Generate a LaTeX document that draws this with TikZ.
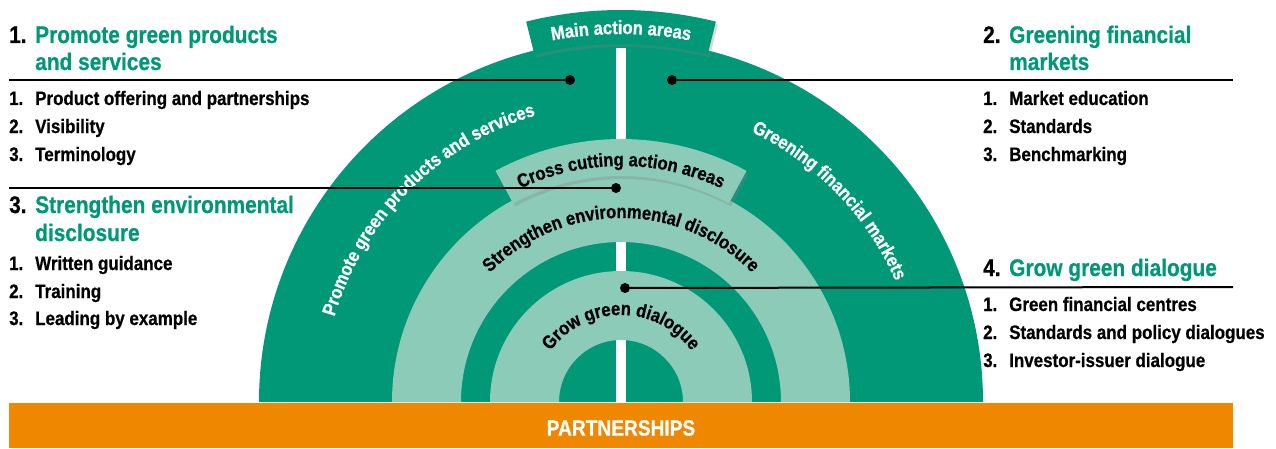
\documentclass[tikz,border=0pt]{standalone}
\usepackage{fontspec}
\usetikzlibrary{decorations.text,shadows}
\newfontfamily\cnd{Liberation Sans}[FakeStretch=0.87,BoldFeatures={FakeBold=0.6}]
\newcommand\hdfont{\cnd\bfseries\fontsize{24}{28}\selectfont}
\newcommand\itfont{\cnd\bfseries\fontsize{19.5}{23}\selectfont}
\newcommand\arcfont{\cnd\bfseries\fontsize{19}{22}\selectfont}
\definecolor{dkgreen}{HTML}{009877}
\definecolor{ltgreen}{HTML}{8DCBB9}
\definecolor{orng}{HTML}{F08700}
\tikzset{
  arctext/.style 2 args={decorate,decoration={text along path,text align=center,
      text color=#1,text={|\arcfont|#2}}},
  banner/.style={fill=#1,drop shadow={shadow xshift=2pt,shadow yshift=-3pt,opacity=.3}},
}

\begin{document}
\begin{tikzpicture}[x=1pt,y=1pt]
  \useasboundingbox (0,0) rectangle (1276,448);
  \coordinate (C) at (621,46);

  \fill[dkgreen] (C) ++(180:362) arc[start angle=180,end angle=0,radius=362] -- cycle;
  \fill[white] (616,40) rectangle (626,400);
  \fill[ltgreen] (C) ++(180:229) arc[start angle=180,end angle=0,radius=229]
    -- ++(-69,0) arc[start angle=0,end angle=180,radius=160] -- cycle;
  \fill[ltgreen] (C) ++(180:131) arc[start angle=180,end angle=0,radius=131]
    -- ++(-69,0) arc[start angle=0,end angle=180,radius=62] -- cycle;

  \path[banner=dkgreen] ([shift={(76:358)}]C) arc[start angle=76,end angle=104,radius=358]
    -- ([shift={(104:392)}]C) arc[start angle=104,end angle=76,radius=392] -- cycle;
  \path[banner=ltgreen] ([shift={(61.5:226)}]C) arc[start angle=61.5,end angle=118.5,radius=226]
    -- ([shift={(118.5:263)}]C) arc[start angle=118.5,end angle=61.5,radius=263] -- cycle;

  \path[arctext={white}{Main action areas}] ([shift={(130:368)}]C) arc[start angle=130,end angle=50,radius=368];
  \path[arctext={black}{Cross cutting action areas}] ([shift={(140:236)}]C) arc[start angle=140,end angle=40,radius=236];
  \path[arctext={white}{Promote green products and services}] ([shift={(185:299)}]C) arc[start angle=185,end angle=85,radius=299];
  \path[arctext={white}{Greening financial markets}] ([shift={(94:300)}]C) arc[start angle=94,end angle=-6,radius=300];
  \path[arctext={black}{Strengthen environmental disclosure}] ([shift={(150:184)}]C) arc[start angle=150,end angle=30,radius=184];
  \path[arctext={black}{Grow green dialogue}] ([shift={(170:87)}]C) arc[start angle=170,end angle=10,radius=87];

  \fill[orng] (9,0) rectangle (1233,45);
  \node[font=\cnd\bfseries\fontsize{22}{26}\selectfont,text=white] (p) at (621,20) {PARTNERSHIPS};

  \begin{scope}[every node/.style={circle,fill=black,inner sep=0pt,minimum size=10pt}]
    \node (d1) at (570,368) {};
    \node (d2) at (672,368) {};
    \node (d3) at (616,260) {};
    \node (d4) at (625,160) {};
  \end{scope}
  \coordinate (l1) at (9,368);
  \coordinate (r2) at (1233,368);
  \coordinate (l3) at (9,260);
  \coordinate (r4) at (1233,161);
  \begin{scope}[every edge/.style={draw,line width=2pt}]
    \path (l1) edge (d1);
    \path (d2) edge (r2);
    \path (l3) edge (d3);
    \path (d4) edge (r4);
  \end{scope}

  \begin{scope}[every node/.style={anchor=base west,inner sep=0pt,font=\hdfont}]
    \node (n1) at (9,405) {1.};
    \node[text=dkgreen] (h1) at (35,405) {Promote green products};
    \node[text=dkgreen] (h1b) at (35,378) {and services};
    \node (n3) at (9,235) {3.};
    \node[text=dkgreen] (h3) at (35,235) {Strengthen environmental};
    \node[text=dkgreen] (h3b) at (35,207) {disclosure};
    \node (n2) at (983,405) {2.};
    \node[text=dkgreen] (h2) at (1009,405) {Greening financial};
    \node[text=dkgreen] (h2b) at (1009,378) {markets};
    \node (n4) at (983,172) {4.};
    \node[text=dkgreen] (h4) at (1009,172) {Grow green dialogue};
  \end{scope}

  \begin{scope}[every node/.style={anchor=base west,inner sep=0pt,font=\itfont}]
    \node (a1) at (9,343) {1.};
    \node (a1t) at (35,343) {Product offering and partnerships};
    \node (a2) at (9,315) {2.};
    \node (a2t) at (35,315) {Visibility};
    \node (a3) at (9,287) {3.};
    \node (a3t) at (35,287) {Terminology};
    \node (b1) at (983,343) {1.};
    \node (b1t) at (1009,343) {Market education};
    \node (b2) at (983,315) {2.};
    \node (b2t) at (1009,315) {Standards};
    \node (b3) at (983,287) {3.};
    \node (b3t) at (1009,287) {Benchmarking};
    \node (c1) at (9,178) {1.};
    \node (c1t) at (35,178) {Written guidance};
    \node (c2) at (9,150) {2.};
    \node (c2t) at (35,150) {Training};
    \node (c3) at (9,123) {3.};
    \node (c3t) at (35,123) {Leading by example};
    \node (e1) at (983,137) {1.};
    \node (e1t) at (1009,137) {Green financial centres};
    \node (e2) at (983,109) {2.};
    \node (e2t) at (1009,109) {Standards and policy dialogues};
    \node (e3) at (983,81) {3.};
    \node (e3t) at (1009,81) {Investor-issuer dialogue};
  \end{scope}
\end{tikzpicture}
\end{document}
